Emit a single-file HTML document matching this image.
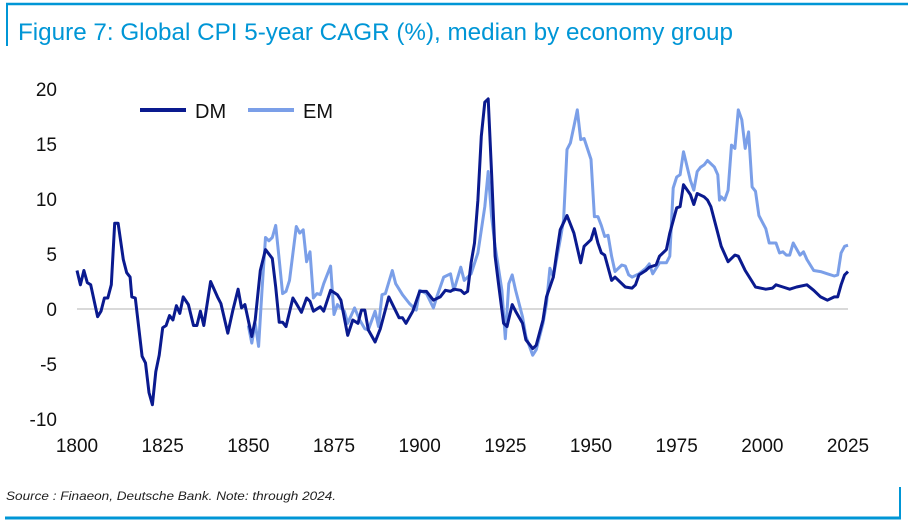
<!DOCTYPE html>
<html><head><meta charset="utf-8"><style>
html,body{margin:0;padding:0;background:#fff;}
body{width:908px;height:525px;position:relative;overflow:hidden;font-family:"Liberation Sans",sans-serif;}
</style></head><body>
<svg width="908" height="525" viewBox="0 0 908 525" style="position:absolute;left:0;top:0">
<line x1="6" y1="4" x2="908" y2="4" stroke="#0096d6" stroke-width="2.5"/>
<line x1="7" y1="3" x2="7" y2="46" stroke="#0096d6" stroke-width="2"/>
<text x="18" y="40" font-size="24" fill="#0096d6" textLength="715" lengthAdjust="spacingAndGlyphs">Figure 7: Global CPI 5-year CAGR (%), median by economy group</text>
<line x1="5" y1="518" x2="901" y2="518" stroke="#0096d6" stroke-width="3"/>
<line x1="900" y1="487" x2="900" y2="519" stroke="#0096d6" stroke-width="2"/>
<text x="6" y="500" font-size="12" font-style="italic" fill="#222" textLength="330" lengthAdjust="spacingAndGlyphs">Source : Finaeon, Deutsche Bank. Note: through 2024.</text>
<g id="yaxis"></g>
<g id="xaxis"></g>
<line id="zero" stroke="#d9d9d9" stroke-width="2"/>
<path id="em" fill="none" stroke="#7b9fe8" stroke-width="3" stroke-linejoin="round"/>
<path id="dm" fill="none" stroke="#0a1a8f" stroke-width="3" stroke-linejoin="round"/>
<g>
<line x1="140" y1="110" x2="186" y2="110" stroke="#0a1a8f" stroke-width="4"/>
<text x="195" y="118" font-size="20" fill="#111">DM</text>
<line x1="248" y1="110" x2="294" y2="110" stroke="#7b9fe8" stroke-width="4"/>
<text x="303" y="118" font-size="20" fill="#111">EM</text>
</g>
</svg>
<script>
const dmYears=[1800,1801,1802,1803,1804,1806,1807,1808,1809,1810,1811,1812,1813.5,1814.5,1815.5,1816,1817,1819,1820,1821,1822,1823,1824,1825,1826,1827,1828,1829,1830,1831,1832.5,1834,1835,1836,1837,1839,1841,1842,1844,1845.5,1847,1848,1849,1851,1852,1853.5,1855,1857,1858,1859,1860,1861,1863,1864,1865.5,1867,1868,1869,1871,1872,1874,1876,1877,1879,1880.5,1882,1883,1884,1885,1887,1888.5,1891,1894,1895,1896,1898,1900,1902,1904,1906,1907.5,1909,1910,1912,1913,1914,1915,1916,1917,1918,1919,1920,1921,1922,1923,1924.5,1925.5,1927,1928,1930,1931,1933,1934,1936,1937,1939,1940,1941,1943,1945,1947,1948,1950,1951,1952,1953,1954,1956,1957,1960,1962,1963,1964,1966,1967,1969,1970,1972,1973,1975,1976,1977,1979,1980,1981,1983,1984,1985,1987,1988,1990,1992,1993,1995,1997,1998,2001,2003,2004,2006,2008,2010,2013,2015,2017,2019,2021,2022,2023,2024,2025];
const dmValues=[3.5,2.2,3.5,2.4,2.2,-0.7,-0.2,1.0,1.0,2.2,7.8,7.8,4.5,3.3,2.9,1.1,1.0,-4.3,-4.9,-7.6,-8.7,-5.7,-4.2,-1.7,-1.5,-0.6,-1.0,0.3,-0.4,1.1,0.4,-1.5,-1.5,-0.2,-1.5,2.5,1.1,0.5,-2.2,-0.1,1.8,0.1,0.4,-2.5,-1.0,3.5,5.4,4.6,2.0,-1.2,-1.2,-1.6,1.0,0.5,-0.3,1.0,0.7,-0.2,0.2,-0.2,1.7,1.3,0.8,-2.4,-1.0,-1.3,-0.1,-0.1,-1.9,-3.0,-1.8,1.1,-0.8,-0.8,-1.3,-0.2,1.6,1.6,0.8,1.1,1.7,1.6,1.8,1.7,1.4,1.6,4.2,6.0,9.9,15.7,18.8,19.1,12.3,4.8,2.3,-1.3,-1.6,0.4,-0.2,-1.3,-2.8,-3.6,-3.3,-1.0,1.1,2.9,5.1,7.2,8.5,6.9,4.2,5.7,6.3,7.3,6.0,5.1,4.9,2.6,2.9,2.0,1.9,2.2,3.1,3.5,3.8,4.0,4.8,5.4,6.9,9.2,9.3,11.3,10.4,9.5,10.5,10.2,9.9,9.3,6.9,5.7,4.3,4.9,4.8,3.5,2.5,2.0,1.8,1.9,2.2,2.0,1.8,2.0,2.2,1.7,1.1,0.8,1.1,1.1,2.2,3.1,3.4];
const emYears=[1850,1851,1852,1853,1854,1855,1856,1857,1858,1859,1860,1861,1862,1864,1865,1866,1867,1868,1869,1870,1871,1872,1874,1875,1876,1878,1879,1881,1882.5,1884,1885,1887,1888,1889,1890,1892,1893,1895,1897,1899,1900,1902,1904,1905,1907,1909,1910,1912,1913,1915,1917,1919,1920,1921,1922,1924,1925,1926,1927,1928,1930,1931,1933,1934,1936,1937,1938,1939,1941,1942,1943,1944,1945,1946,1947,1948,1950,1951,1952,1953,1954,1955,1956,1957,1959,1960,1961,1962,1964,1966,1967,1968,1970,1972,1973,1974,1975,1976,1977,1979,1980,1981,1982,1983,1984,1986,1987,1987.5,1988,1989,1990,1991,1992,1993,1994,1995,1996,1997,1998,1999,2001,2002,2004,2005,2006,2007,2008,2009,2011,2012,2013,2015,2017,2019,2021,2022,2023,2024,2025];
const emValues=[-1.5,-3.1,-1.3,-3.4,1.7,6.5,6.2,6.5,7.6,4.5,1.4,1.6,2.6,7.5,6.9,7.2,4.3,5.2,1.0,1.4,1.3,2.3,3.9,-0.5,0.4,-0.2,-1.3,0.1,-1.0,-1.8,-1.9,-0.2,-1.6,1.3,1.4,3.5,2.3,1.3,0.5,-0.1,1.7,1.4,0.1,1.1,2.9,3.2,1.7,3.8,2.6,3.2,5.1,9.3,12.5,8.4,5.7,1.7,-2.7,2.3,3.1,1.7,-0.7,-2.5,-4.2,-3.7,-1.3,0.5,3.7,2.9,6.3,8.1,14.5,15.1,16.6,18.1,15.4,15.5,13.6,8.4,8.4,7.6,6.6,6.7,4.8,3.4,4.0,3.9,3.1,2.9,3.2,3.7,4.1,3.2,4.2,4.2,4.8,11.0,12.0,12.2,14.3,11.7,10.8,12.5,12.9,13.1,13.5,12.9,12.2,9.9,10.2,9.9,10.8,14.9,14.6,18.1,17.2,14.6,16.1,11.1,10.7,8.5,7.3,6.0,6.0,5.1,5.2,4.9,4.9,6.0,4.9,5.2,4.5,3.5,3.4,3.2,3.0,3.1,5.1,5.7,5.8];
const yTicks=[20,15,10,5,0,-5,-10];
const xTicks=[1800,1825,1850,1875,1900,1925,1950,1975,2000,2025];

const NS='http://www.w3.org/2000/svg';
const X0=77,X1=848,Y20=89,Ym10=419;
function xs(yr){return X0+(yr-1800)*(X1-X0)/225;}
function ys(v){return Y20+(20-v)*(Ym10-Y20)/30;}
const ya=document.getElementById('yaxis');
yTicks.forEach(t=>{
  const tx=document.createElementNS(NS,'text');
  tx.setAttribute('x',57);tx.setAttribute('y',ys(t)+7);
  tx.setAttribute('text-anchor','end');tx.setAttribute('font-size','19');tx.setAttribute('fill','#111');
  tx.textContent=t;
  
  
  ya.appendChild(tx);
});
const xa=document.getElementById('xaxis');
xTicks.forEach(t=>{
  const tx=document.createElementNS(NS,'text');
  tx.setAttribute('x',xs(t));tx.setAttribute('y',452);
  tx.setAttribute('text-anchor','middle');tx.setAttribute('font-size','19');tx.setAttribute('fill','#111');
  tx.textContent=t;
  
  
  xa.appendChild(tx);
});
const z=document.getElementById('zero');
z.setAttribute('x1',X0);z.setAttribute('x2',X1);z.setAttribute('y1',ys(0));z.setAttribute('y2',ys(0));
function path(yrs,vals){return yrs.map((y,i)=>(i?'L':'M')+xs(y).toFixed(1)+' '+ys(vals[i]).toFixed(1)).join(' ');}
document.getElementById('dm').setAttribute('d',path(dmYears,dmValues));
document.getElementById('em').setAttribute('d',path(emYears,emValues));
</script>
</body></html>
